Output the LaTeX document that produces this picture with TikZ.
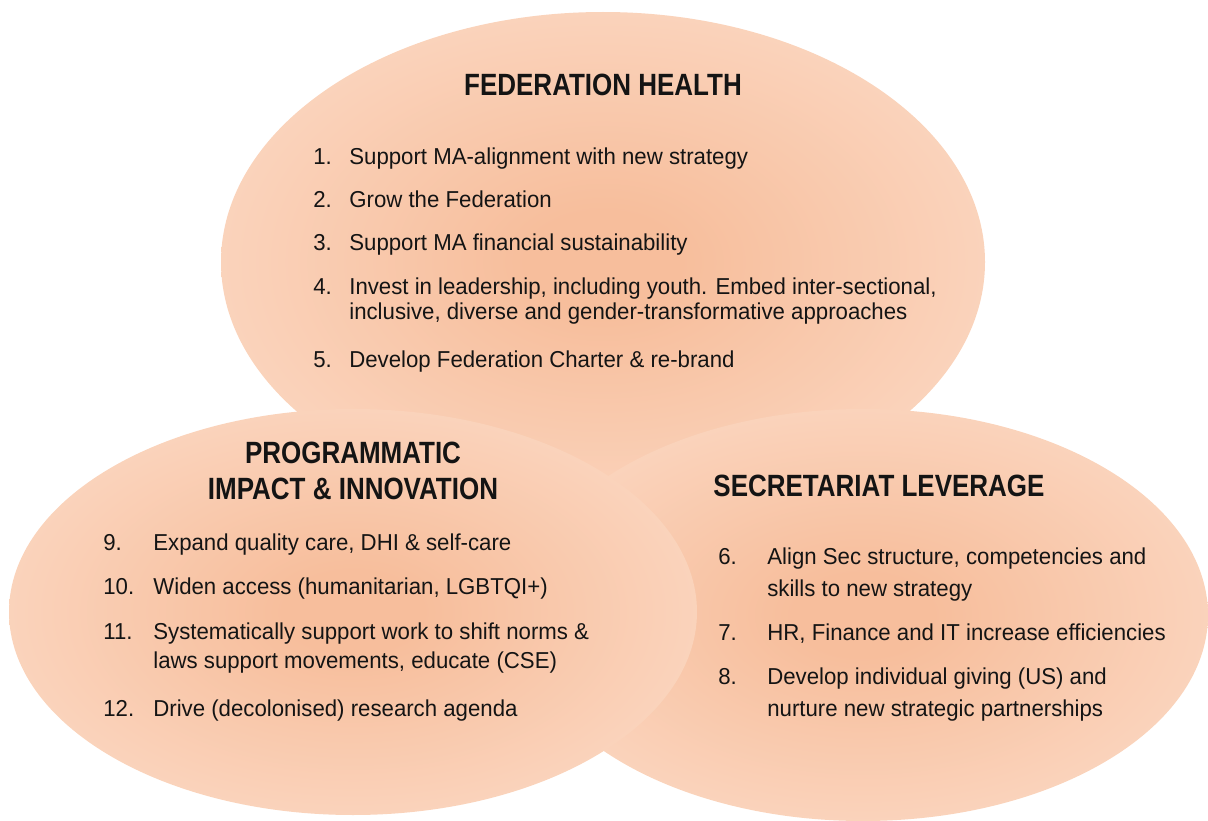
\documentclass[tikz,border=0pt]{standalone}
\usepackage{fontspec}
\setmainfont{Liberation Sans}
\newfontfamily\bodyfont{Liberation Sans}[FakeStretch=0.965]
\newfontfamily\headfont{Liberation Sans}[FakeStretch=0.845]
\usepackage{xcolor}
\definecolor{peachIn}{RGB}{247,190,156}
\definecolor{peachMid}{RGB}{251,214,192}
\definecolor{peachOut}{RGB}{255,237,228}
\colorlet{txtDark}{black!92}
\usepackage{tikz}
\pgfdeclareradialshading{peachglow}{\pgfpoint{0bp}{0bp}}{color(0bp)=(peachIn); color(5bp)=(peachIn); color(28bp)=(peachMid); color(50bp)=(peachOut); color(60bp)=(peachOut)}

\begin{document}
\begin{tikzpicture}[x=0.02cm, y=-0.02cm,
		blob/.style={shading=peachglow},
		headline/.style={font={\headfont\bfseries\fontsize{17.5pt}{20.5pt}\selectfont}, text=txtDark, inner sep=0pt, align=center},
		itemnum/.style={font={\bodyfont\fontsize{13.1pt}{15pt}\selectfont}, text=txtDark, inner sep=0pt, anchor=base west},
		itemtext/.style={itemnum}]
	\useasboundingbox (0,0) rectangle (1208,821);
	% three overlapping ellipses
	\shade[blob] (603,262) ellipse [x radius=382, y radius=250];
	\shade[blob] (863,615) ellipse [x radius=345, y radius=206];
	\shade[blob] (353,612) ellipse [x radius=344, y radius=203];
	% federation health
	\node[headline, anchor=base] (fedhead) at (603,96) {FEDERATION HEALTH};
	\node[itemnum] (fn1) at (313,165) {1.};
	\node[itemtext] (ft1) at (349,165) {Support MA-alignment with new strategy};
	\node[itemnum] (fn2) at (313,208) {2.};
	\node[itemtext] (ft2) at (349,208) {Grow the Federation};
	\node[itemnum] (fn3) at (313,251) {3.};
	\node[itemtext] (ft3) at (349,251) {Support MA financial sustainability};
	\node[itemnum] (fn4) at (313,295) {4.};
	\node[itemtext] (ft4) at (349,295) {Invest in leadership, including youth. Embed inter-sectional,};
	\node[itemtext] (ft4b) at (349,319) {inclusive, diverse and gender-transformative approaches};
	\node[itemnum] (fn5) at (313,367) {5.};
	\node[itemtext] (ft5) at (349,367) {Develop Federation Charter \& re-brand};
	% programmatic impact
	\node[headline] (proghead) at (353,471) {PROGRAMMATIC\\IMPACT \& INNOVATION};
	\node[itemnum] (pn9) at (103,550) {9.};
	\node[itemtext] (pt9) at (153,550) {Expand quality care, DHI \& self-care};
	\node[itemnum] (pn10) at (103,594) {10.};
	\node[itemtext] (pt10) at (153,594) {Widen access (humanitarian, LGBTQI+)};
	\node[itemnum] (pn11) at (103,639) {11.};
	\node[itemtext] (pt11) at (153,639) {Systematically support work to shift norms \&};
	\node[itemtext] (pt11b) at (153,668) {laws support movements, educate (CSE)};
	\node[itemnum] (pn12) at (103,716) {12.};
	\node[itemtext] (pt12) at (153,716) {Drive (decolonised) research agenda};
	% secretariat leverage
	\node[headline, anchor=base] (sechead) at (879,496) {SECRETARIAT LEVERAGE};
	\node[itemnum] (sn6) at (718,564) {6.};
	\node[itemtext] (st6) at (767,564) {Align Sec structure, competencies and};
	\node[itemtext] (st6b) at (767,596) {skills to new strategy};
	\node[itemnum] (sn7) at (718,640) {7.};
	\node[itemtext] (st7) at (767,640) {HR, Finance and IT increase efficiencies};
	\node[itemnum] (sn8) at (718,684) {8.};
	\node[itemtext] (st8) at (767,684) {Develop individual giving (US) and};
	\node[itemtext] (st8b) at (767,716) {nurture new strategic partnerships};
\end{tikzpicture}
\end{document}
